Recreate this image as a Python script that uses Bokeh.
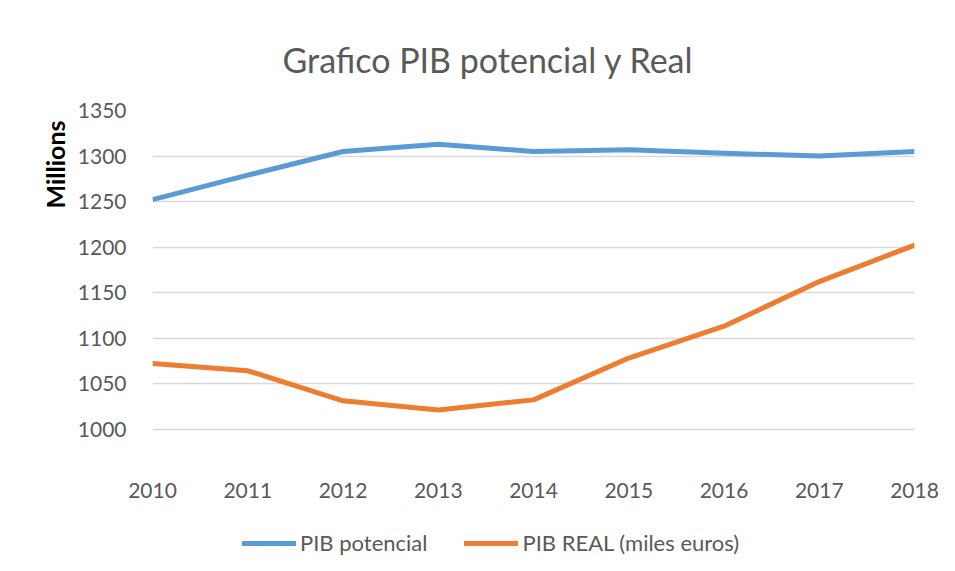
from bokeh.plotting import figure
from bokeh.layouts import column
from bokeh.models import FixedTicker, Legend, LegendItem, Range1d, Title
from bokeh.embed import file_html
from bokeh.resources import INLINE

years = [2010, 2011, 2012, 2013, 2014, 2015, 2016, 2017, 2018]
pib_potencial = [1252, 1279, 1305, 1313, 1305, 1307, 1303, 1300, 1305]
pib_real = [1072, 1064, 1031, 1021, 1032, 1078, 1113, 1162, 1202]
y_ticks = [1000, 1050, 1100, 1150, 1200, 1250, 1300, 1350]
series_names = ["PIB potencial", "PIB REAL (miles euros)"]
series_values = [pib_potencial, pib_real]
colors = ["#5B9BD5", "#ED7D31"]

FONT = "Lato"
GREY = "#595959"

p = figure(width=955, height=530, output_backend="svg", toolbar_location=None,
           x_range=Range1d(2010, 2018), y_range=Range1d(950, 1350),
           min_border_left=152, min_border_right=41, min_border_top=110,
           min_border_bottom=56)
p.outline_line_color = None

p.title.text = "Grafico PIB potencial y Real"
p.title.align = "left"
p.title.offset = 130
p.title.text_font = FONT
p.title.text_font_size = "34px"
p.title.text_font_style = "normal"
p.title.text_color = GREY
p.title.standoff = 62

for vals, c in zip(series_values, colors):
    p.line(years, vals, line_color=c, line_width=5, line_join="round")

p.xaxis.ticker = FixedTicker(ticks=years)
p.yaxis.ticker = FixedTicker(ticks=y_ticks)
for ax in (p.xaxis, p.yaxis):
    ax.axis_line_color = None
    ax.major_tick_line_color = None
    ax.minor_tick_line_color = None
    ax.major_label_text_font = FONT
    ax.major_label_text_font_size = "21px"
    ax.major_label_text_color = GREY
p.xaxis.major_label_standoff = 2
p.yaxis.major_label_standoff = 20
p.xgrid.grid_line_color = None
p.ygrid.grid_line_color = "#D9D9D9"
p.ygrid.grid_line_width = 1.5

p.add_layout(Title(text="Millions", align="right", offset=10, text_font=FONT,
                   text_font_style="bold", text_font_size="25px",
                   text_color="black"), "left")

# legend strip (same series, drawn out of view so only the legend shows)
lf = figure(width=955, height=41, output_backend="svg", toolbar_location=None,
            x_range=Range1d(2010, 2018), y_range=Range1d(0, 1),
            min_border_left=0, min_border_right=0, min_border_top=0,
            min_border_bottom=0)
lf.axis.visible = False
lf.grid.visible = False
lf.outline_line_color = None
items = []
for name, vals, c in zip(series_names, series_values, colors):
    r = lf.line(years, vals, line_color=c, line_width=5, line_cap="round")
    items.append(LegendItem(label=name, renderers=[r]))
legend = Legend(items=items, orientation="horizontal", location=(90, 15),
                label_text_font=FONT, label_text_font_size="22px",
                label_text_color=GREY, glyph_width=54, label_standoff=4,
                spacing=37, padding=0, margin=0, border_line_color=None,
                background_fill_alpha=0)
lf.add_layout(legend)

layout = column(p, lf, spacing=0)
open("out.html", "w").write(file_html(layout, INLINE))
